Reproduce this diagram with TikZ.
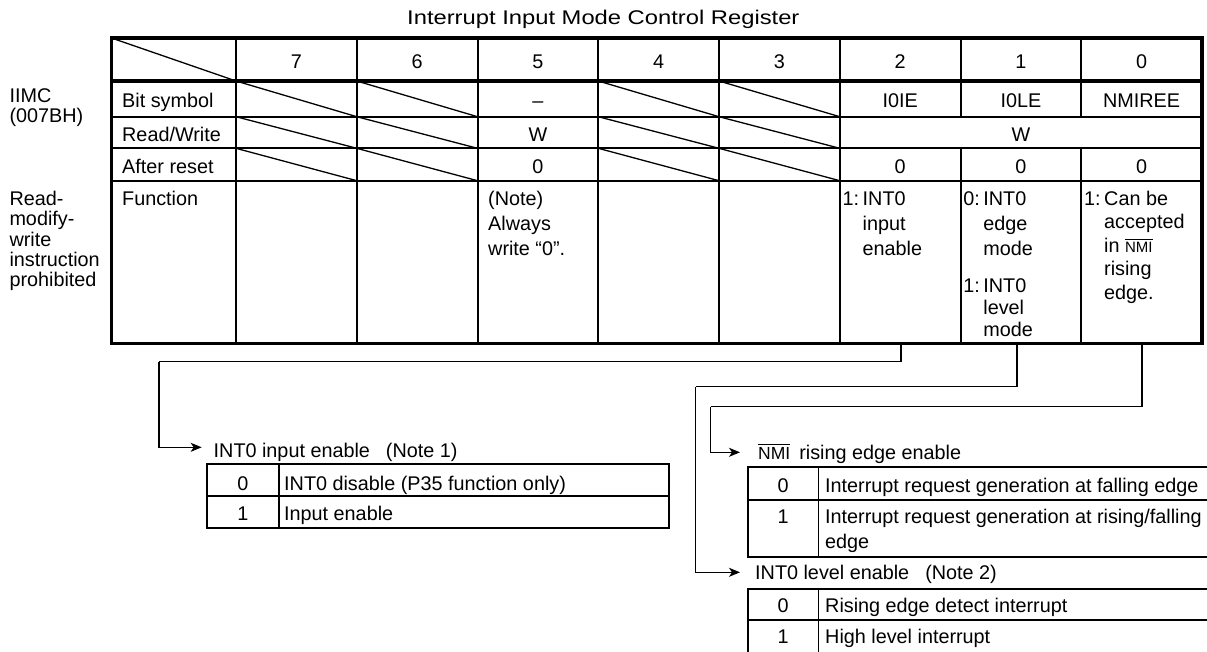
\documentclass[tikz,border=0pt]{standalone}
\usepackage{fontspec}
\usepackage{graphicx}
\setmainfont{Liberation Sans}
\usetikzlibrary{arrows.meta}
\newcommand\fsz[1]{\fontsize{19.8pt}{#1pt}\selectfont}
\newcommand\ovl[2]{\leavevmode\vbox{\hrule height 0.9pt\kern 1.8pt\hbox{\fontsize{#1pt}{#1pt}\selectfont #2}}}
\newcommand\lines[1]{\begin{tabular}[t]{@{}l@{}}#1\end{tabular}}
\newcommand\hangitem[2]{\makebox[20pt][l]{#1}\lines{#2}}
\begin{document}
\begin{tikzpicture}[x=1pt,y=-1pt,
  txt/.style={inner sep=0pt,anchor=base,font=\fsz{24.5}},
  ltxt/.style={txt,anchor=base west},
  gridline/.style={line width=2pt},
  boldline/.style={line width=3.5pt},
  diag/.style={line width=1.3pt},
  conn/.style={line width=1.3pt},
  arr/.style={conn,-{Stealth[length=11pt,width=9pt,inset=3pt]}},
  tabline/.style={line width=1.8pt}
]
\useasboundingbox (0,0) rectangle (1207,651);
\fill[white] (0,0) rectangle (1207,651);
\clip (0,0) rectangle (1207,651);

% title
\node[ltxt] (title) at (407,24.5) {\scalebox{1.2}[1]{Interrupt Input Mode Control Register}};

% left labels
\node[ltxt,font=\fsz{20}] (iimc) at (9.3,102) {\lines{IIMC\\(007BH)}};
\node[ltxt,font=\fsz{20}] (rmw) at (9.3,205.3) {\lines{Read-\\modify-\\write\\instruction\\prohibited}};

% main table grid
\foreach \xx in {236,356.75,477.5,598.25,719,839.75}{
  \draw[gridline] (\xx,38) -- (\xx,343.3);
}
\foreach \xx in {960.5,1081.25}{
  \draw[gridline] (\xx,38) -- (\xx,116.7);
  \draw[gridline] (\xx,148.3) -- (\xx,343.3);
}
\foreach \yy in {116.7,148.3,180.7}{
  \draw[gridline] (111.5,\yy) -- (1202,\yy);
}
\foreach \xl in {236,356.75,598.25,719}{
  \foreach \yt/\yb in {81/116.7,116.7/148.3,148.3/180.7}{
    \draw[diag] (\xl,\yt) -- (\xl+120.75,\yb);
  }
}
\draw[diag] (111.5,38) -- (236,81);
\draw[boldline] (111.5,81) -- (1202,81);
\draw[boldline] (111.5,38) rectangle (1202,343.3);

% header digits
\foreach \d [count=\i from 0] in {7,6,5,4,3,2,1,0}{
  \node[txt] (h\d) at (296.4+120.75*\i,68.8) {\d};
}

% row labels
\node[ltxt] (rbit) at (122,107) {Bit symbol};
\node[ltxt] (rrw) at (122,141.3) {Read/Write};
\node[ltxt] (rrst) at (122,173) {After reset};
\node[ltxt] (rfun) at (122,205) {Function};

% bit symbols
\node[txt] (s5) at (537.9,107) {–};
\node[txt] (s2) at (900.1,107) {I0IE};
\node[txt] (s1) at (1020.9,107) {I0LE};
\node[txt] (s0) at (1141.6,107) {NMIREE};

% read/write
\node[txt] (w5) at (537.9,141.3) {W};
\node[txt] (w210) at (1020.9,141.3) {W};

% after reset
\node[txt] (r5) at (537.9,173) {0};
\node[txt] (r2) at (900.1,173) {0};
\node[txt] (r1) at (1020.9,173) {0};
\node[txt] (r0) at (1141.6,173) {0};

% function
\node[ltxt,font=\fsz{25}] (f5) at (488,205) {\lines{(Note)\\Always\\write “0”.}};
\node[ltxt,font=\fsz{25}] (f2) at (842.5,205) {\hangitem{1:}{INT0\\input\\enable}};
\node[ltxt,font=\fsz{25}] (f1a) at (963.2,205) {\hangitem{0:}{INT0\\edge\\mode}};
\node[ltxt,font=\fsz{22}] (f1b) at (963.2,292) {\hangitem{1:}{INT0\\level\\mode}};
\node[ltxt,font=\fsz{23.5}] (f0) at (1084,205) {\hangitem{1:}{Can be\\accepted\\in \ovl{15}{NMI}\\rising\\edge.}};

% connectors
\coordinate (b2) at (901,343.3);
\coordinate (b1) at (1017,343.3);
\coordinate (b0) at (1142,343.3);
\coordinate (k2) at (159,361.7);
\coordinate (k1) at (695.5,386.7);
\coordinate (k0) at (710.7,406.7);
\coordinate (a1) at (201.7,447.3);
\coordinate (a2) at (740,452.3);
\coordinate (a3) at (740,572.3);
\draw[conn] (b2) |- (k2);
\draw[arr] (k2) |- (a1);
\draw[conn] (b1) |- (k1);
\draw[arr] (k1) |- (a3);
\draw[conn] (b0) |- (k0);
\draw[arr] (k0) |- (a2);

% arrow labels
\node[ltxt] (lab1) at (213.5,457) {INT0 input enable\hspace{16pt}(Note 1)};
\node[ltxt] (lab2) at (758,459) {\ovl{17.5}{NMI}\hspace{9pt}rising edge enable};
\node[ltxt] (lab3) at (755,579.5) {INT0 level enable\hspace{16pt}(Note 2)};

% table 1
\draw[tabline] (206.7,464) rectangle (669,527.7);
\draw[tabline] (206.7,495.7) -- (669,495.7);
\draw[tabline] (279,464) -- (279,527.7);
\node[txt] (t1v0) at (243,490) {0};
\node[ltxt] (t1d0) at (284,490) {INT0 disable (P35 function only)};
\node[txt] (t1v1) at (243,520.5) {1};
\node[ltxt] (t1d1) at (284,520.5) {Input enable};

% table NMI
\draw[tabline] (747.7,466.7) rectangle (1212,556.7);
\draw[tabline] (747.7,500) -- (1212,500);
\draw[tabline] (818.5,466.7) -- (818.5,556.7);
\node[txt] (t2v0) at (783,492) {0};
\node[ltxt] (t2d0) at (825,492) {Interrupt request generation at falling edge};
\node[txt] (t2v1) at (783,523.7) {1};
\node[ltxt,font=\fsz{25}] (t2d1) at (825,523.7) {\lines{Interrupt request generation at rising/falling\\edge}};

% table INT0 level
\draw[tabline] (747.7,589.3) rectangle (1212,656);
\draw[tabline] (747.7,620) -- (1212,620);
\draw[tabline] (818.5,589.3) -- (818.5,656);
\node[txt] (t3v0) at (783,612) {0};
\node[ltxt] (t3d0) at (825,612) {Rising edge detect interrupt};
\node[txt] (t3v1) at (783,643.7) {1};
\node[ltxt] (t3d1) at (825,643.7) {High level interrupt};
\end{tikzpicture}
\end{document}
